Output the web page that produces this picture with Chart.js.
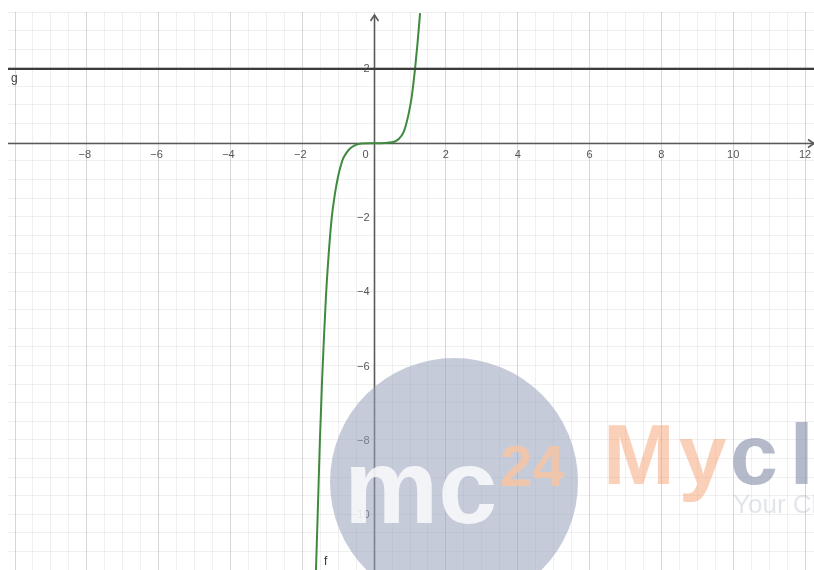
<!DOCTYPE html>
<html><head><meta charset="utf-8">
<script src="https://cdn.jsdelivr.net/npm/chart.js@4"></script>
<style>html,body{margin:0;padding:0;background:#fff}#wrap{width:814px;height:570px;position:relative}</style>
</head><body><div id="wrap"><canvas id="c"></canvas></div>
<script>
// ---- data ----
const curveX = [-1.62, -1.57, -1.51, -1.45, -1.40, -1.34, -1.27, -1.18, -1.09, -1.00, -0.95, -0.88, -0.78, -0.67, -0.55, -0.40, 0, 0.30, 0.58, 0.70, 0.82, 0.91, 0.98, 1.05, 1.14, 1.21, 1.28];
const curveY = [-11.5, -9.95, -8.0, -6.4, -5.3, -4.1, -3.05, -2.0, -1.35, -0.88, -0.68, -0.45, -0.27, -0.14, -0.06, -0.01, 0, 0.01, 0.05, 0.13, 0.30, 0.58, 0.88, 1.27, 2.0, 2.7, 3.5];
const gX = [-10.195, 12.25];
const gY = [2, 2];
const xTickValues = [-8, -6, -4, -2, 2, 4, 6, 8, 10, 12];
const yTickValues = [2, -2, -4, -6, -8, -10];
const xRange = [-10.195, 12.25];
const yRange = [-11.47, 3.53];
const curveName = 'f';
const lineName = 'g';
const wmText = {mc: 'mc', sup: '24', brandA: 'My', brandB: 'class24', sub: 'Your Classroom'};

const fmt = v => (v < 0 ? '\u2212' + Math.abs(v) : String(v));

const geoPlugin = {
  id: 'geo',
  beforeDatasetsDraw(chart) {
    const {ctx, chartArea: a, scales: {x, y}} = chart;
    const x0 = Math.round(x.getPixelForValue(0)) + 0.5;
    const y0 = Math.round(y.getPixelForValue(0)) + 0.5;
    ctx.save();
    ctx.strokeStyle = '#5a5a5a';
    ctx.lineWidth = 1.6;
    ctx.beginPath();
    ctx.moveTo(a.left, y0); ctx.lineTo(a.right, y0);
    ctx.moveTo(x0, a.top + 3); ctx.lineTo(x0, a.bottom);
    ctx.stroke();
    ctx.beginPath();
    ctx.moveTo(x0 - 4, a.top + 9); ctx.lineTo(x0, a.top + 3); ctx.lineTo(x0 + 4, a.top + 9);
    ctx.moveTo(a.right - 6, y0 - 4); ctx.lineTo(a.right, y0); ctx.lineTo(a.right - 6, y0 + 4);
    ctx.stroke();
    ctx.fillStyle = '#555';
    ctx.font = '11px "Liberation Sans", Arial, sans-serif';
    ctx.textAlign = 'center';
    ctx.textBaseline = 'middle';
    xTickValues.forEach(v => {
      const px = x.getPixelForValue(v);
      ctx.fillText(fmt(v), px + (v < 0 ? -2 : 0), y0 + 11);
    });
    ctx.textAlign = 'right';
    yTickValues.forEach(v => {
      ctx.fillText(fmt(v), x0 - 5, y.getPixelForValue(v));
    });
    ctx.fillText('0', x0 - 6, y0 + 11);
    ctx.restore();
  },
  afterDatasetsDraw(chart) {
    const {ctx, chartArea: a, scales: {x, y}} = chart;
    ctx.save();
    ctx.fillStyle = '#444';
    ctx.font = '12px "Liberation Sans", Arial, sans-serif';
    ctx.textBaseline = 'middle';
    ctx.textAlign = 'left';
    ctx.fillText(lineName, a.left + 3, y.getPixelForValue(gY[0]) + 10);
    ctx.fillStyle = '#333';
    ctx.fillText(curveName, x.getPixelForValue(curveX[0]) + 8, a.bottom - 8);
    ctx.restore();
  },
  afterDraw(chart) {
    const {ctx} = chart;
    ctx.save();
    ctx.beginPath();
    ctx.arc(454, 482, 124, 0, Math.PI * 2);
    ctx.fillStyle = 'rgba(150,160,185,0.55)';
    ctx.fill();
    ctx.textBaseline = 'alphabetic';
    ctx.textAlign = 'left';
    ctx.font = 'bold 106px "Liberation Sans", Arial, sans-serif';
    ctx.fillStyle = 'rgba(255,255,255,0.8)';
    ctx.fillText(wmText.mc, 344, 523);
    ctx.font = 'bold 58px "Liberation Sans", Arial, sans-serif';
    ctx.fillStyle = 'rgba(250,196,160,0.8)';
    ctx.fillText(wmText.sup, 500, 486);
    ctx.font = 'bold 86px "Liberation Sans", Arial, sans-serif';
    ctx.letterSpacing = '4px';
    ctx.fillStyle = 'rgba(245,150,100,0.45)';
    ctx.fillText(wmText.brandA, 603, 484);
    ctx.letterSpacing = '12px';
    ctx.fillStyle = 'rgba(130,140,165,0.6)';
    ctx.fillText(wmText.brandB, 730, 484);
    ctx.letterSpacing = '0px';
    ctx.font = '26px "Liberation Sans", Arial, sans-serif';
    ctx.fillStyle = 'rgba(160,168,185,0.3)';
    ctx.fillText(wmText.sub, 733, 513);
    ctx.restore();
  }
};

const gridColor = ctx => {
  const v = ctx.tick ? ctx.tick.value : 0;
  const m = Math.abs(v / 2 - Math.round(v / 2)) < 1e-6;
  return m ? 'rgba(0,0,0,0.16)' : 'rgba(0,0,0,0.06)';
};

new Chart(document.getElementById('c'), {
  type: 'scatter',
  data: {
    datasets: [
      {
        label: lineName,
        data: gX.map((v, i) => ({x: v, y: gY[i]})),
        showLine: true,
        borderColor: '#3c3c3c',
        borderWidth: 2.4,
        pointRadius: 0,
        pointHoverRadius: 0
      },
      {
        label: curveName,
        data: curveX.map((v, i) => ({x: v, y: curveY[i]})),
        showLine: true,
        borderColor: '#3f8a3f',
        borderWidth: 2,
        pointRadius: 0,
        pointHoverRadius: 0,
        cubicInterpolationMode: 'monotone'
      }
    ]
  },
  options: {
    responsive: true,
    maintainAspectRatio: false,
    animation: false,
    layout: {padding: {left: 8, top: 12, right: 0, bottom: 0}},
    plugins: {legend: {display: false}, tooltip: {enabled: false}},
    scales: {
      x: {
        type: 'linear',
        min: xRange[0], max: xRange[1],
        ticks: {display: false, stepSize: 0.5, includeBounds: false, autoSkip: false},
        grid: {color: gridColor, lineWidth: 1, drawTicks: false},
        border: {display: false}
      },
      y: {
        type: 'linear',
        min: yRange[0], max: yRange[1],
        ticks: {display: false, stepSize: 0.5, includeBounds: false, autoSkip: false},
        grid: {color: gridColor, lineWidth: 1, drawTicks: false},
        border: {display: false}
      }
    }
  },
  plugins: [geoPlugin]
});
</script>
</body></html>
